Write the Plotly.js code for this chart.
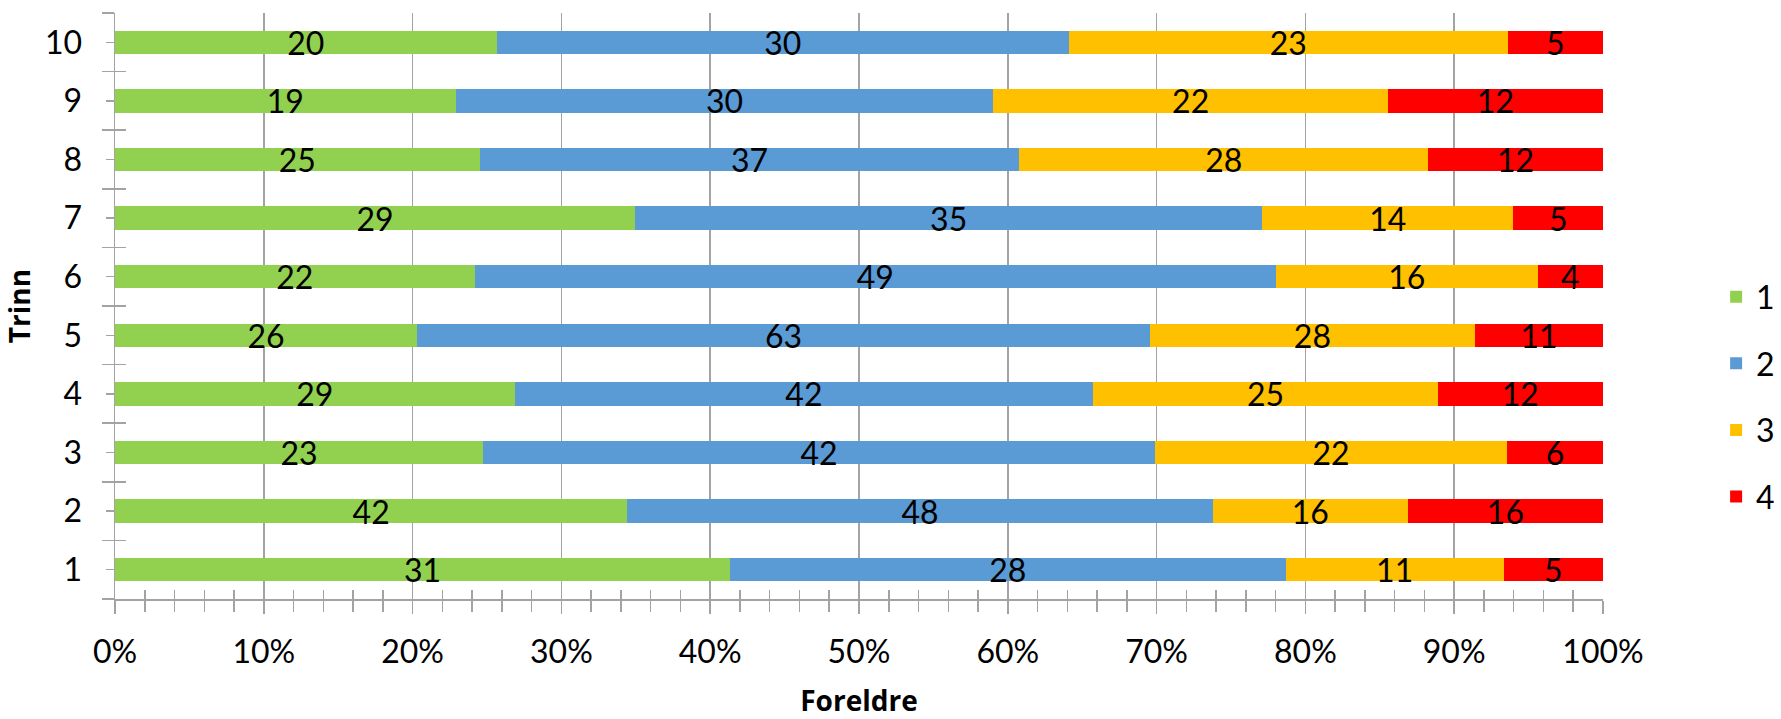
<!DOCTYPE html>
<html>
<head>
<meta charset="utf-8">
<script src="https://cdn.plot.ly/plotly-3.0.1.min.js"></script>
<style>html,body{margin:0;padding:0;background:#fff}#chart{width:1781px;height:719px}</style>
</head>
<body>
<div id="chart"></div>
<script>
const trinn = [1, 2, 3, 4, 5, 6, 7, 8, 9, 10];
const seriesNames = ["1", "2", "3", "4"];
const s1 = [31, 42, 23, 29, 26, 22, 29, 25, 19, 20];
const s2 = [28, 48, 42, 42, 63, 49, 35, 37, 30, 30];
const s3 = [11, 16, 22, 25, 28, 16, 14, 28, 22, 23];
const s4 = [5, 16, 6, 12, 11, 4, 5, 12, 12, 5];
const colors = ["#92D050", "#5B9BD5", "#FFC000", "#FF0000"];
const xTickLabels = ["0%","10%","20%","30%","40%","50%","60%","70%","80%","90%","100%"];

const FONT = "Lato, 'Open Sans', sans-serif";
const TFONT = "'Open Sans', Lato, sans-serif";
const GRAY = "#a3a3a3";
const all = [s1, s2, s3, s4];

const traces = all.map((vals, i) => ({
  type: "bar",
  orientation: "h",
  name: seriesNames[i],
  legendgroup: "g" + i,
  x: vals,
  y: trinn,
  text: vals.map(String),
  texttemplate: "%{text}",
  textposition: "inside",
  insidetextanchor: "middle",
  textangle: 0,
  constraintext: "none",
  textfont: {family: FONT, size: 32, color: "#000"},
  marker: {color: colors[i], line: {width: 0}},
  width: 0.4,
  hoverinfo: "skip"
}));

traces.push({type: "scatter", x: [], y: [], xaxis: "x2", yaxis: "y2", showlegend: false, hoverinfo: "skip"});

const layout = {
  width: 1781, height: 719,
  margin: {l: 115, r: 178, t: 13, b: 120},
  paper_bgcolor: "#fff", plot_bgcolor: "#fff",
  barmode: "stack",
  barnorm: "percent",
  font: {family: FONT, size: 32, color: "#000"},
  showlegend: true,
  legend: {
    xref: "container", yref: "container",
    x: 0.9995, xanchor: "right", y: 0.448, yanchor: "middle",
    traceorder: "grouped", tracegroupgap: 22,
    font: {family: FONT, size: 32, color: "#000"},
    bgcolor: "rgba(0,0,0,0)"
  },
  xaxis: {
    range: [0, 100],
    tickmode: "array",
    tickvals: [0,10,20,30,40,50,60,70,80,90,100],
    ticktext: xTickLabels,
    ticks: "outside", ticklen: 13, tickwidth: 1.5, tickcolor: GRAY,
    ticklabelstandoff: 11,
    minor: {tick0: 0, dtick: 2, ticks: "outside", ticklen: 11, tickwidth: 1.5, tickcolor: GRAY},
    showgrid: true, gridcolor: GRAY, gridwidth: 1.5,
    zeroline: false,
    showline: true, linecolor: GRAY, linewidth: 1.5,
    tickfont: {family: FONT, size: 32, color: "#000"},
    title: {text: "<b>Foreldre</b>", font: {family: TFONT, size: 28, color: "#000"}, standoff: 28},
    fixedrange: true
  },
  yaxis: {
    range: [0.5, 10.5],
    tickmode: "array",
    tickvals: trinn,
    ticktext: trinn.map(String),
    ticks: "outside", ticklen: 8, tickwidth: 1.5, tickcolor: GRAY,
    ticklabelstandoff: 17,
    minor: {tick0: 0.5, dtick: 1, ticks: "outside", ticklen: 12, tickwidth: 1.5, tickcolor: GRAY},
    showgrid: false,
    zeroline: false,
    showline: true, linecolor: GRAY, linewidth: 1.5,
    tickfont: {family: FONT, size: 32, color: "#000"},
    title: {text: "<b>Trinn</b>", font: {family: TFONT, size: 28, color: "#000"}, standoff: 10},
    fixedrange: true
  },
  xaxis2: {
    overlaying: "x", anchor: "y2", side: "bottom",
    range: [0, 100], tick0: 0, dtick: 2,
    ticks: "inside", ticklen: 9, tickwidth: 1.5, tickcolor: GRAY,
    showticklabels: false, showgrid: false, zeroline: false, showline: false,
    fixedrange: true
  },
  yaxis2: {
    overlaying: "y", anchor: "x2", side: "left",
    range: [0.5, 10.5], tick0: 0.5, dtick: 1,
    ticks: "inside", ticklen: 11, tickwidth: 1.5, tickcolor: GRAY,
    showticklabels: false, showgrid: false, zeroline: false, showline: false,
    fixedrange: true
  }
};

Plotly.newPlot("chart", traces, layout, {displayModeBar: false, staticPlot: true});
</script>
</body>
</html>
